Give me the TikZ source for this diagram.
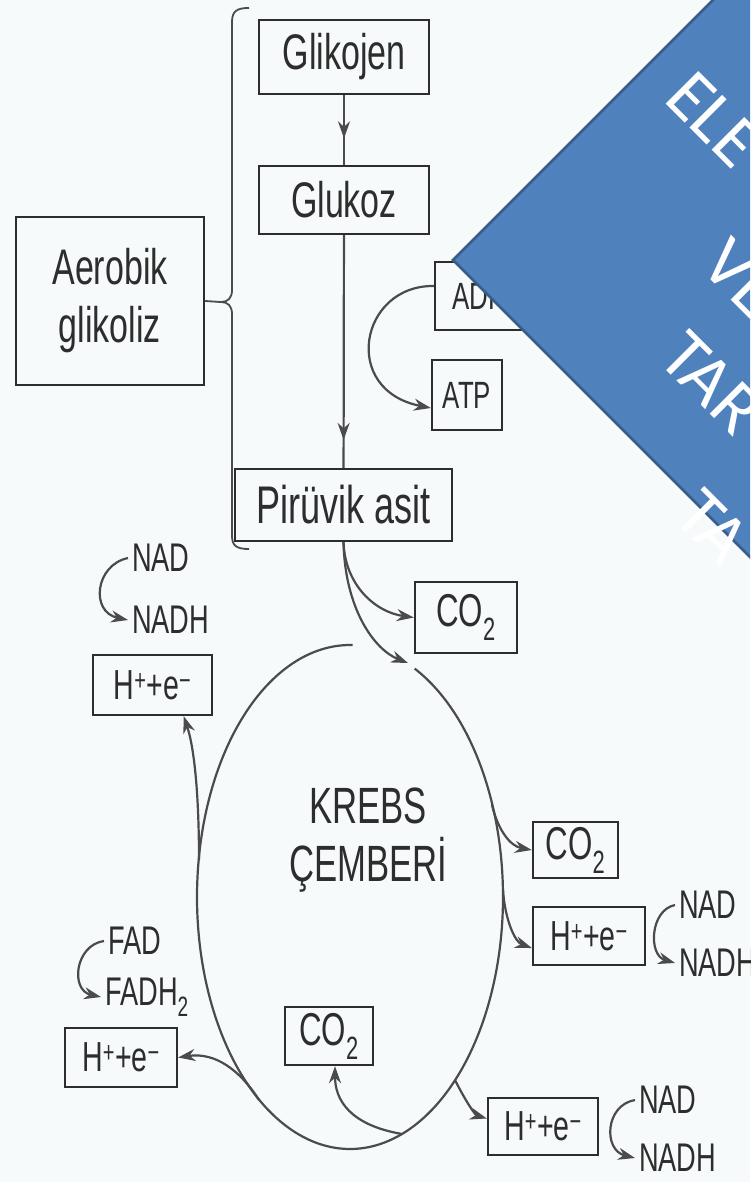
\documentclass[tikz,border=0pt]{standalone}
\usepackage{fontspec}
\newfontfamily\cond[FakeStretch=0.68]{Liberation Sans}
\newfontfamily\calib{Carlito}
\usetikzlibrary{arrows.meta,decorations.markings}
\definecolor{bgc}{RGB}{246,250,251}
\definecolor{ink}{RGB}{45,45,45}
\definecolor{lnk}{RGB}{75,75,75}
\definecolor{dfill}{RGB}{79,129,189}
\definecolor{dedge}{RGB}{56,93,138}
\newcommand\fntA{\cond\fontsize{50}{58}\selectfont}
\newcommand\fntP{\cond\fontsize{53}{58}\selectfont}
\newcommand\fntC{\cond\fontsize{46}{50}\selectfont}
\newcommand\fntH{\cond\fontsize{42}{46}\selectfont}
\newcommand\fntN{\cond\fontsize{40}{44}\selectfont}
\newcommand\fntS{\cond\fontsize{38}{42}\selectfont}
\tikzset{
  boxn/.style={draw=ink, line width=2.4pt, text=ink, inner sep=0pt},
  lbl/.style={text=ink, inner sep=4pt, font=\fntN},
  arr/.style={draw=lnk, line width=2.2pt, -{Stealth[length=17pt,width=12pt]}},
  plain/.style={draw=lnk, line width=2.2pt},
  midarr/.style={draw=lnk, line width=2.2pt, postaction={decorate},
    decoration={markings, mark=at position #1 with {\arrow{Stealth[length=17pt,width=12pt]}}}},
  dtext/.style={text=white, inner sep=0pt, font=\calib\fontsize{72}{86}\selectfont},
}
\begin{document}
\begin{tikzpicture}[x=1pt,y=-1pt]
\useasboundingbox (0,0) rectangle (750,1182);
\clip (0,0) rectangle (750,1182);
\fill[bgc] (0,0) rectangle (750,1182);

% upper boxes
\node[boxn, minimum width=170pt, minimum height=74pt, font=\fntA] (glikojen) at (344,57) {Glikojen};
\node[boxn, minimum width=170pt, minimum height=68pt, font=\fntA] (glukoz) at (344,200) {Glukoz};
\node[boxn, minimum width=217pt, minimum height=72pt, font=\fntP] (piruvik) at (343.5,505) {Pirüvik asit};
\node[boxn, minimum width=88pt, minimum height=68pt, font=\fntS] (adp) at (479,296) {ADP};
\node[boxn, minimum width=70pt, minimum height=70pt, font=\fntS] (atp) at (467,395) {ATP};
\node[boxn, minimum width=188pt, minimum height=168pt, font=\fntA, align=center] (aerobik) at (110,301) {Aerobik\\glikoliz};

% brace
\coordinate (brnib) at (221,302);
\draw[plain, line width=1.8pt] (249,8) .. controls (237,8) and (232,11) .. (232,22) -- (232,290)
  .. controls (232,298) and (228,302) .. (brnib)
  .. controls (228,302) and (232,306) .. (232,314) -- (232,536)
  .. controls (232,546) and (237,549) .. (249,549);
\draw[plain, line width=1.8pt] (aerobik.east) -- (brnib);

% vertical flow
\draw[midarr=0.62] (glikojen) -- (glukoz);
\draw[midarr=0.88] (glukoz) -- (piruvik);
\draw[arr] ([yshift=10pt]adp.west) .. controls (360,285) and (340,390) .. ([yshift=-13pt]atp.west);

% Krebs loop
\draw[plain] plot[domain=65:-271, samples=160, smooth] ({350+153*cos(\x)}, {897-252*sin(\x)});
\coordinate (ltop) at (408,663);
\coordinate (lb1) at (199,860);
\coordinate (lb2) at (492,805);
\coordinate (lb3) at (503,890);
\coordinate (lb4) at (259,1100);
\coordinate (lb5) at (402,1134);
\coordinate (lb6) at (455,1080);
\node[text=ink, inner sep=0pt, font=\cond\fontsize{51}{58}\selectfont, align=center] (krebs) at (368,840) {KREBS\\ÇEMBERİ};

% boxes around loop
\node[boxn, minimum width=102pt, minimum height=71pt, font=\fntC] (co2a) at (466,617.5) {CO\textsubscript{2}};
\node[boxn, minimum width=119pt, minimum height=60pt, font=\fntH] (h1) at (152.5,685) {H\textsuperscript{+}+e\textsuperscript{−}};
\node[boxn, minimum width=85pt, minimum height=56pt, font=\fntC] (co2b) at (575.5,850) {CO\textsubscript{2}};
\node[boxn, minimum width=112pt, minimum height=58pt, font=\fntH] (h2) at (589,936) {H\textsuperscript{+}+e\textsuperscript{−}};
\node[boxn, minimum width=112pt, minimum height=59pt, font=\fntH] (h3) at (121,1057.5) {H\textsuperscript{+}+e\textsuperscript{−}};
\node[boxn, minimum width=88pt, minimum height=58pt, font=\fntC] (co2c) at (329,1036) {CO\textsubscript{2}};
\node[boxn, minimum width=110pt, minimum height=57pt, font=\fntH] (h4) at (543,1126.5) {H\textsuperscript{+}+e\textsuperscript{−}};

% pyruvate arrows
\draw[arr] (piruvik.south) .. controls (345,585) and (375,612) .. (co2a.west);
\draw[arr] (piruvik.south) .. controls (345,610) and (375,650) .. (ltop);

% branches
\draw[arr] (lb1) .. controls (199,800) and (195,750) .. (h1.-45);
\draw[arr] (lb2) .. controls (498,830) and (510,846) .. (co2b.west);
\draw[arr] (lb3) .. controls (505,920) and (515,942) .. ([yshift=-12pt]h2.west);
\draw[arr] (lb4) .. controls (240,1070) and (215,1052) .. (h3.east);
\draw[arr] (lb5) .. controls (350,1125) and (335,1100) .. ([xshift=6pt]co2c.south);
\draw[arr] (lb6) .. controls (465,1100) and (475,1115) .. ([yshift=8pt]h4.west);

% NAD / FAD labels
\node[lbl, anchor=west] (nad1) at (128,558) {NAD};
\node[lbl, anchor=west] (nadh1) at (128,620) {NADH};
\draw[arr] (nad1.west) .. controls (95,565) and (90,612) .. (nadh1.west);
\node[lbl, anchor=west] (nad2) at (675,905) {NAD};
\node[lbl, anchor=west] (nadh2) at (675,963) {NADH};
\draw[arr] (nad2.west) .. controls (650,910) and (648,955) .. (nadh2.west);
\node[lbl, anchor=west] (nad4) at (635,1100) {NAD};
\node[lbl, anchor=west] (nadh4) at (635,1158) {NADH};
\draw[arr] (nad4.west) .. controls (605,1105) and (603,1150) .. (nadh4.west);
\node[lbl, anchor=west] (fad) at (104,941) {FAD};
\node[lbl, anchor=west] (fadh) at (101,997) {FADH\textsubscript{2}};
\draw[arr] (fad.west) .. controls (75,945) and (70,990) .. (fadh.west);

% blue diamond overlay
\draw[fill=dfill, draw=dedge, line width=2.5pt] (453,260) -- (873,-160) -- (1293,260) -- (873,680) -- cycle;
\node[dtext, anchor=base west, rotate=-45] (d1) at (662,100) {ELE};
\node[dtext, anchor=base west, rotate=-45] (d2) at (698,267) {VE};
\node[dtext, anchor=base west, rotate=-45] (d3) at (656,360) {TAR};
\node[dtext, anchor=base west, rotate=-45] (d4) at (671,518) {TA};
\end{tikzpicture}
\end{document}
